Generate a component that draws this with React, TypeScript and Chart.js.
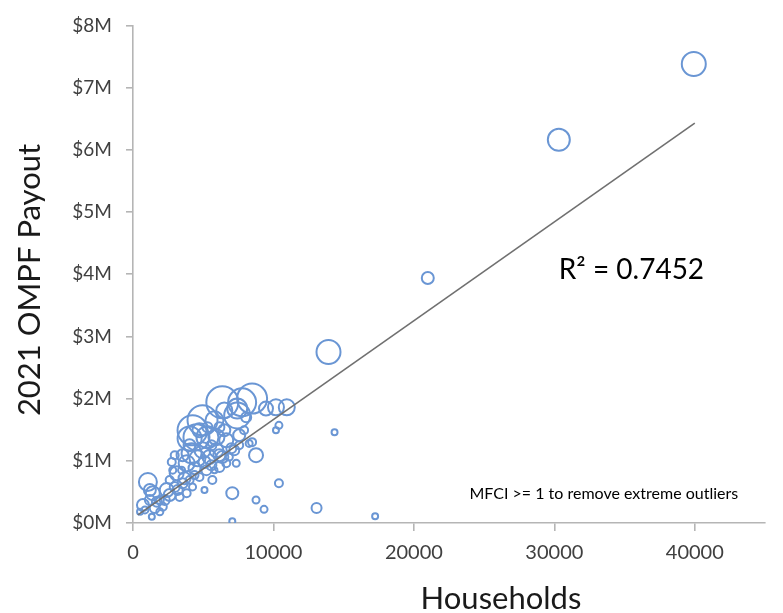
import React, { useEffect, useRef } from 'react';
import { Chart, registerables } from 'chart.js';

Chart.register(...registerables);

// Households per community
const households = [
  39930, 30320, 20990, 13920, 14350, 13070, 17240, 10390, 6360, 8480,
  7770, 7420, 4950, 4240, 4520, 4030, 5300, 10180, 10950, 8760,
  7070, 8760, 9330, 7070, 10390, 10180, 8480, 1060, 1410, 1200,
  1700, 850, 1910, 2400, 2760, 3110, 2970, 3530, 3820, 4170,
  4590, 4950, 5440, 5940, 6360, 6150, 5650, 5230, 4730, 4030,
  4240, 3320, 3820, 6640, 6860, 7350, 7210, 6640, 5940, 8270,
  8060, 9470, 6150, 5300, 2830, 2120, 1340, 500, 1910, 2610,
  4380, 5090, 5800, 3460, 7560, 7910, 5580, 6500,
  710, 1550, 1200, 2260, 2610, 3180, 3670, 4380, 5090, 5580,
  6150, 7000, 7560, 3530, 2970, 4030, 4730, 5800, 6500, 7420,
];

// 2021 OMPF payout, millions of dollars
const payoutMillions = [
  7.38, 6.16, 3.94, 2.75, 1.46, 0.24, 0.11, 0.64, 1.94, 2.0,
  1.94, 1.73, 1.65, 1.49, 1.38, 1.36, 1.38, 1.86, 1.86, 1.09,
  0.48, 0.37, 0.22, 0.03, 1.57, 1.49, 1.3, 0.66, 0.48, 0.37,
  0.34, 0.21, 0.18, 0.53, 0.98, 0.8, 0.58, 0.64, 0.96, 1.12,
  1.04, 1.17, 1.06, 1.17, 1.06, 0.9, 0.69, 0.85, 0.74, 0.69,
  0.58, 0.42, 0.48, 0.96, 1.06, 0.96, 1.17, 1.33, 1.38, 1.28,
  1.7, 1.84, 1.54, 1.54, 0.85, 0.26, 0.1, 0.18, 0.37, 0.69,
  0.77, 0.53, 0.85, 0.85, 1.25, 1.49, 1.25, 1.49,
  0.29, 0.24, 0.53, 0.37, 0.45, 0.53, 0.72, 0.88, 0.98, 0.93,
  1.09, 1.2, 1.41, 1.09, 1.09, 1.25, 1.49, 1.65, 1.81, 1.84,
];

// Bubble size (third variable)
const bubbleSize = [
  12, 11, 6, 12, 3, 5, 3, 4, 16, 15,
  14, 13, 15, 15, 13, 12, 11, 8, 8, 7,
  6, 3.5, 3.5, 3, 3.5, 3, 4, 9, 7, 5,
  5, 3.5, 3.5, 7, 4, 7, 5, 5, 8, 10,
  8, 8, 7, 7, 6, 5, 4, 5, 4, 4,
  3.5, 4, 4, 4, 3.5, 3.5, 5, 7, 8, 3.5,
  5, 7, 5, 5, 3.5, 4, 3, 3, 4, 4,
  4, 3, 3, 3.5, 4, 4, 5, 6,
  6, 5, 6, 5, 6, 5, 6, 6, 6, 5,
  6, 5, 6, 6, 4, 6, 7, 9, 8, 10,
];

// Linear trend line end points
const trendHouseholds = [350, 40000];
const trendPayoutMillions = [0.13, 6.43];

const xTickValues = [0, 10000, 20000, 30000, 40000];
const yTickValues = [0, 1, 2, 3, 4, 5, 6, 7, 8];

const xTitle = 'Households';
const yTitle = '2021 OMPF Payout';
const rSquaredText = 'R² = 0.7452';
const rSquaredAt = { x: 30320, y: 3.92 };
const noteText = 'MFCI >= 1 to remove extreme outliers';
const noteAt = { x: 23960, y: 0.38 };

const FONT = 'Lato, "Open Sans", sans-serif';

const textPlugin = {
  id: 'chartTexts',
  afterDraw(chart: any) {
    const { ctx, scales } = chart;
    const x = scales.x;
    const y = scales.y;
    ctx.save();
    ctx.textBaseline = 'alphabetic';
    ctx.textAlign = 'left';
    ctx.fillStyle = '#000000';
    ctx.font = `28px ${FONT}`;
    ctx.fillText(rSquaredText, x.getPixelForValue(rSquaredAt.x), y.getPixelForValue(rSquaredAt.y));
    ctx.font = `16px ${FONT}`;
    ctx.fillText(noteText, x.getPixelForValue(noteAt.x), y.getPixelForValue(noteAt.y));

    ctx.fillStyle = '#1a1a1a';
    ctx.textAlign = 'center';
    ctx.font = `31px ${FONT}`;
    ctx.fillText(xTitle, 501, 609);

    ctx.translate(40, 280);
    ctx.rotate(-Math.PI / 2);
    ctx.font = `31px ${FONT}`;
    ctx.fillText(yTitle, 0, 0);
    ctx.restore();
  },
};

export default function App() {
  const canvasRef = useRef<HTMLCanvasElement | null>(null);

  useEffect(() => {
    document.body.style.margin = '0';
    const canvas = canvasRef.current;
    if (!canvas) return;
    const axisColor = '#b5b5b5';
    const chart = new Chart(canvas, {
      type: 'bubble',
      data: {
        datasets: [
          {
            type: 'line',
            data: trendHouseholds.map((h, i) => ({ x: h, y: trendPayoutMillions[i] })),
            borderColor: '#707070',
            borderWidth: 1.6,
            pointRadius: 0,
            fill: false,
          } as any,
          {
            type: 'bubble',
            data: households.map((h, i) => ({ x: h, y: payoutMillions[i], r: bubbleSize[i] })),
            backgroundColor: 'rgba(0,0,0,0)',
            borderColor: '#6a96d4',
            borderWidth: 2,
          },
        ],
      },
      options: {
        responsive: false,
        animation: false,
        devicePixelRatio: 1,
        layout: { padding: { top: 23, right: 13, left: 0, bottom: 0 } },
        plugins: {
          legend: { display: false },
          tooltip: { enabled: false },
        },
        scales: {
          x: {
            type: 'linear',
            min: 0,
            max: 45000,
            afterBuildTicks: (s: any) => {
              s.ticks = xTickValues.map((v) => ({ value: v }));
            },
            afterFit: (s: any) => {
              s.height = 90;
            },
            border: { display: true, color: axisColor, width: 1.6 },
            grid: { display: true, drawOnChartArea: false, drawTicks: true, tickLength: 8, color: axisColor, lineWidth: 1.6 },
            ticks: {
              color: '#404040',
              font: { family: FONT, size: 20 },
              padding: 10,
              maxRotation: 0,
              callback: (v: any) => String(v),
            },
          },
          y: {
            type: 'linear',
            min: 0,
            max: 8,
            afterBuildTicks: (s: any) => {
              s.ticks = yTickValues.map((v) => ({ value: v }));
            },
            afterFit: (s: any) => {
              s.width = 133;
            },
            border: { display: true, color: axisColor, width: 1.6 },
            grid: { display: true, drawOnChartArea: false, drawTicks: true, tickLength: 7, color: axisColor, lineWidth: 1.6 },
            ticks: {
              color: '#404040',
              font: { family: FONT, size: 19 },
              padding: 14,
              callback: (v: any) => `$${v}M`,
            },
          },
        },
      },
      plugins: [textPlugin],
    });
    return () => chart.destroy();
  }, []);

  return (
    <div style={{ width: 783, height: 613, background: '#ffffff' }}>
      <canvas ref={canvasRef} width={783} height={613} />
    </div>
  );
}
